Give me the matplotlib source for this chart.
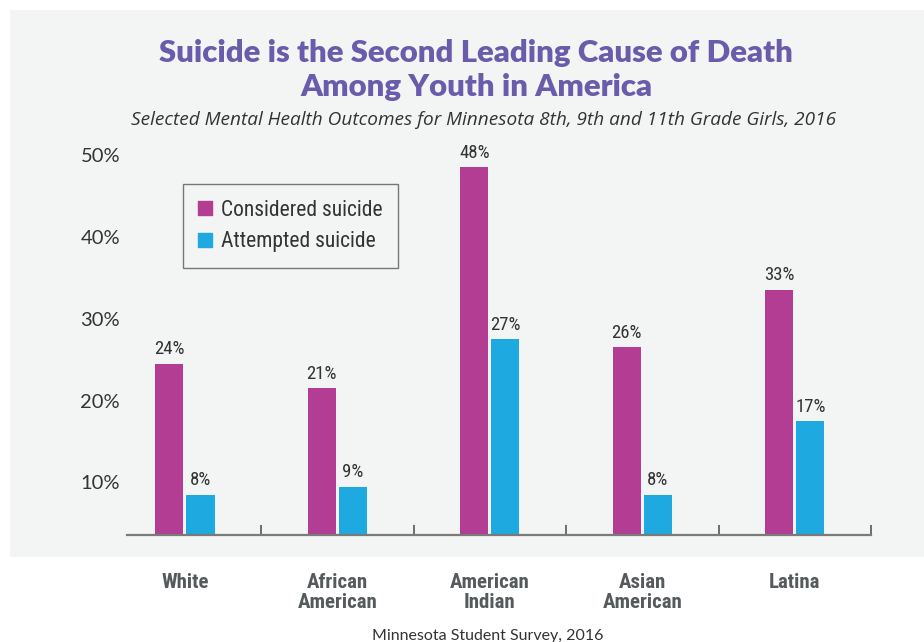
import matplotlib.pyplot as plt
import matplotlib.patches as mpatches
import matplotlib.transforms as mtrans
import numpy as np

# ========= data =========
groups = ['White', 'African\nAmerican', 'American\nIndian', 'Asian\nAmerican', 'Latina']
considered = [24, 21, 48, 26, 33]
attempted = [8, 9, 27, 8, 17]
series = ['Considered suicide', 'Attempted suicide']
yticks = [10, 20, 30, 40, 50]

purple = '#b23d93'
blue = '#1eaae0'
title_col = '#6a5bab'
text_col = '#333333'
narrow = ['Roboto Condensed', 'DejaVu Sans']

fig = plt.figure(figsize=(9.24, 6.42), dpi=100)
fig.patch.set_facecolor('white')

# gray panel behind the chart
W, H = 924, 642
fig.patches.append(mpatches.Rectangle((10 / W, 1 - 557 / H), 1, 547 / H,
                                      transform=fig.transFigure, facecolor='#f3f4f4',
                                      edgecolor='none', zorder=-5))

ax = fig.add_axes([127 / W, 1 - 535 / H, 744 / W, 390 / H])
ax.set_facecolor('none')
ax.set_zorder(2)

x = np.arange(len(groups))
bw = 0.184
off = 0.102
b1 = ax.bar(x - off, considered, bw, color=purple, label=series[0], zorder=2)
b2 = ax.bar(x + off, attempted, bw, color=blue, label=series[1], zorder=2)

for bars, vals in [(b1, considered), (b2, attempted)]:
    for b, v in zip(bars, vals):
        ax.annotate('%d%%' % v, (b.get_x() + b.get_width() / 2, v),
                    xytext=(0, 4), textcoords='offset points', ha='center', va='bottom',
                    fontsize=13.5, color=text_col, family=narrow)

ax.set_xlim(-0.38, 4.5)
ax.set_ylim(3.1, 50.7)

for s in ['left', 'right', 'top']:
    ax.spines[s].set_visible(False)
ax.spines['bottom'].set_color('#7a7a7a')
ax.spines['bottom'].set_linewidth(1.6)

ax.set_yticks(yticks)
ax.set_yticklabels(['%d%%' % t for t in yticks], fontsize=14.5, color=text_col, family='Lato')
ax.tick_params(axis='y', length=0, pad=5)
shift = mtrans.ScaledTranslation(0, -4 / 100, fig.dpi_scale_trans)
for lbl in ax.get_yticklabels():
    lbl.set_transform(lbl.get_transform() + shift)

ax.set_xticks(x)
ax.set_xticklabels(groups, fontsize=15, color='#555a5c', family=narrow,
                   fontweight='bold', linespacing=1.1)
ax.tick_params(axis='x', which='major', length=0, pad=27)
ax.set_xticks(x + 0.5, minor=True)
ax.tick_params(axis='x', which='minor', direction='in', length=7, width=1.2, color='#555555')

handles = [mpatches.Patch(color=purple), mpatches.Patch(color=blue)]
leg = ax.legend(handles, series, loc='upper left', bbox_to_anchor=(0.075, 0.9),
                borderaxespad=0, fancybox=False, framealpha=1, facecolor='#f3f4f4',
                edgecolor='#777777',
                prop={'family': narrow, 'size': 15.5},
                handlelength=0.62, handleheight=0.62, handletextpad=0.45,
                borderpad=0.72, labelspacing=0.5)
leg.get_frame().set_linewidth(1.0)
for t in leg.get_texts():
    t.set_color(text_col)

fig.text(476 / W, 1 - 53 / H, 'Suicide is the Second Leading Cause of Death',
         ha='center', va='center', fontsize=22.4, fontweight='heavy', color=title_col, family='Lato')
fig.text(476 / W, 1 - 87 / H, 'Among Youth in America',
         ha='center', va='center', fontsize=22.4, fontweight='heavy', color=title_col, family='Lato')
fig.text(484 / W, 1 - 120 / H,
         'Selected Mental Health Outcomes for Minnesota 8th, 9th and 11th Grade Girls, 2016',
         ha='center', va='center', fontsize=13.7, style='italic', color=text_col, family='Open Sans')
fig.text(488 / W, 1 - 629 / H, 'Minnesota Student Survey, 2016',
         ha='center', va='top', fontsize=11.5, color=text_col, family='Lato')

fig.savefig('out.png', dpi=100)
